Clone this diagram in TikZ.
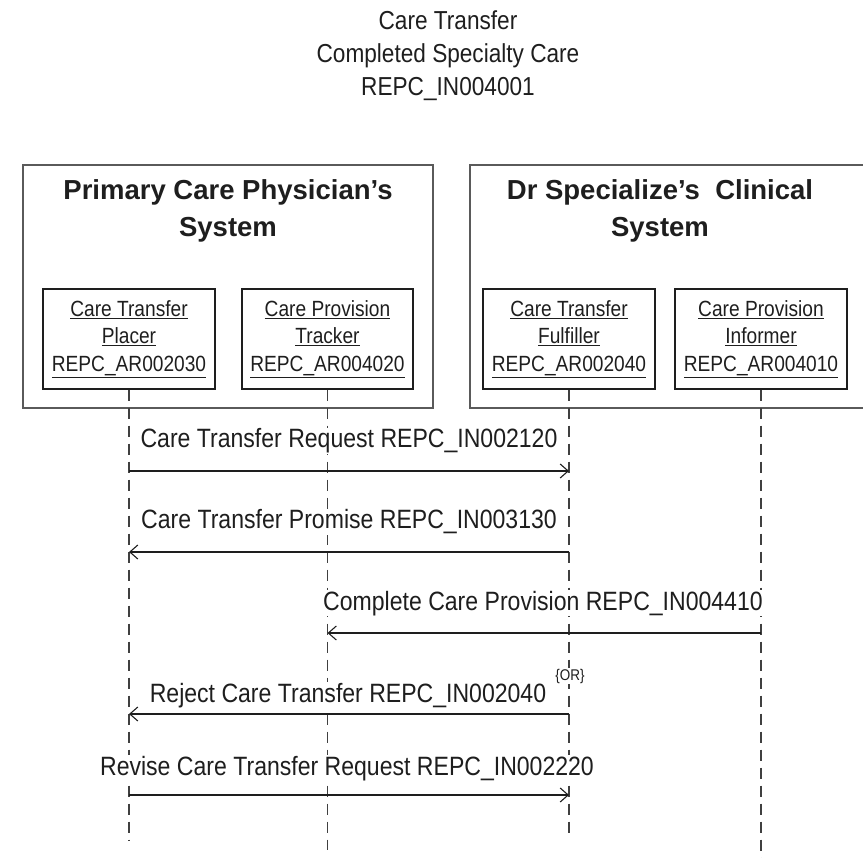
\documentclass[tikz,border=0pt]{standalone}
\usepackage{fontspec}
\setmainfont{Liberation Sans}
\newfontfamily\nf[FakeStretch=0.87]{Liberation Sans}
\usetikzlibrary{arrows.meta}
\definecolor{ink}{HTML}{1E1E1E}
\definecolor{frame}{HTML}{5A5A5A}
\newcommand\ulx[1]{\underline{#1}}
\begin{document}
\begin{tikzpicture}[x=1pt,y=-1pt,
  title/.style={font=\nf\fontsize{26}{33}\selectfont, align=center, anchor=base, text=ink, inner sep=0pt},
  sysbox/.style={draw=frame, line width=1.3pt},
  syshead/.style={font=\bfseries\fontsize{27.5}{37}\selectfont, align=center, anchor=base, text=ink, inner sep=0pt},
  role/.style={draw=ink, line width=1.2pt, minimum height=100pt, align=center, font=\nf\fontsize{22}{27.5}\selectfont, text=ink, inner sep=0pt},
  life/.style={draw=ink!85, line width=1.1pt, dash pattern=on 11pt off 7pt},
  msgl/.style={font=\nf\fontsize{26.5}{30}\selectfont, anchor=base, text=ink, fill=white, inner sep=1pt},
  msg/.style={draw=ink, line width=1.3pt, -{Straight Barb[length=8pt,width=14pt,line width=1.1pt]}},
]
\useasboundingbox (0,0) rectangle (863,858);
% title
\node[title] (t) at (448,96) {Care Transfer\\Completed Specialty Care\\REPC\_IN004001};
% system frames
\draw[sysbox] (23,165) rectangle (433,408);
\draw[sysbox] (880,165) -- (470,165) -- (470,408) -- (880,408);
\node[syshead] (h1) at (228,237) {Primary Care Physician’s\\System};
\node[syshead] (h2) at (660,237) {Dr Specialize’s\ \ Clinical\\System};
% roles
\node[role, minimum width=172pt] (p1) at (129,339) {\ulx{Care Transfer}\\\ulx{Placer}\\\ulx{REPC\_AR002030}};
\node[role, minimum width=171pt] (p2) at (327.5,339) {\ulx{Care Provision}\\\ulx{Tracker}\\\ulx{REPC\_AR004020}};
\node[role, minimum width=172pt] (p3) at (569,339) {\ulx{Care Transfer}\\\ulx{Fulfiller}\\\ulx{REPC\_AR002040}};
\node[role, minimum width=172pt] (p4) at (761,339) {\ulx{Care Provision}\\\ulx{Informer}\\\ulx{REPC\_AR004010}};
% lifelines
\coordinate (e1) at (129,840);
\coordinate (e2) at (327.5,850);
\coordinate (e3) at (569,837);
\coordinate (e4) at (761,862);
\draw[life] (p1.south) -- (e1);
\draw[life] (p2.south) -- (e2);
\draw[life] (p3.south) -- (e3);
\draw[life] (p4.south) -- (e4);
% message end points
\coordinate (a1s) at (p1.south |- 0,471); \coordinate (a1e) at (p3.south |- 0,471);
\coordinate (a2s) at (p3.south |- 0,552); \coordinate (a2e) at (p1.south |- 0,552);
\coordinate (a3s) at (p4.south |- 0,633); \coordinate (a3e) at (p2.south |- 0,633);
\coordinate (a4s) at (p3.south |- 0,714); \coordinate (a4e) at (p1.south |- 0,714);
\coordinate (a5s) at (p1.south |- 0,795); \coordinate (a5e) at (p3.south |- 0,795);
% labels
\node[msgl] (m1) at (349,448) {Care Transfer Request REPC\_IN002120};
\node[msgl] (m2) at (349,529) {Care Transfer Promise REPC\_IN003130};
\node[msgl] (m3) at (543,610) {Complete Care Provision REPC\_IN004410};
\node[msgl] (m4) at (348,702) {Reject Care Transfer REPC\_IN002040};
\node[msgl] (m5) at (347,775) {Revise Care Transfer Request REPC\_IN002220};
\node[font=\nf\fontsize{15.5}{18}\selectfont, text=ink, fill=white, inner sep=0.5pt] (or) at (570,676) {\{OR\}};
% messages
\draw[msg] (a1s) -- (a1e);
\draw[msg] (a2s) -- (a2e);
\draw[msg] (a3s) -- (a3e);
\draw[msg] (a4s) -- (a4e);
\draw[msg] (a5s) -- (a5e);
\end{tikzpicture}
\end{document}
